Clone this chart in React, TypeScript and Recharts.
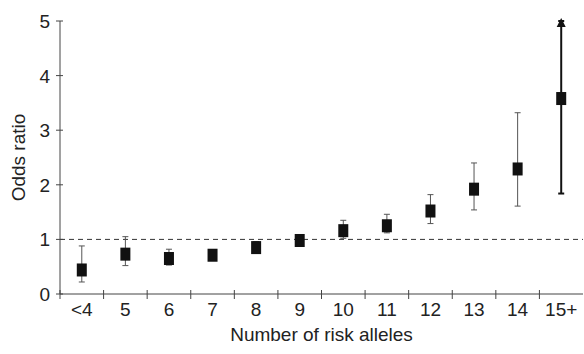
import React from 'react';
import { ComposedChart, Line, XAxis, YAxis, ReferenceLine, ErrorBar } from 'recharts';

const categories = ['<4', '5', '6', '7', '8', '9', '10', '11', '12', '13', '14', '15+'];
const oddsRatios = [0.44, 0.73, 0.65, 0.71, 0.85, 0.98, 1.16, 1.25, 1.52, 1.92, 2.29, 3.58];
const lowerCI = [0.22, 0.52, 0.53, 0.64, 0.77, 0.92, 1.02, 1.12, 1.29, 1.54, 1.61, 1.84];
const upperCI = [0.88, 1.05, 0.82, 0.80, 0.96, 1.05, 1.35, 1.46, 1.82, 2.4, 3.32, 5.0];
const yTicks = [0, 1, 2, 3, 4, 5];
const referenceOR = 1;

const lastIndex = categories.length - 1;
const data = categories.map((c, i) => {
  const err = [oddsRatios[i] - lowerCI[i], upperCI[i] - oddsRatios[i]];
  const isLast = i === lastIndex;
  return {
    cat: c,
    orMain: isLast ? null : oddsRatios[i],
    errMain: isLast ? null : err,
    orLast: isLast ? oddsRatios[i] : null,
    errLast: isLast ? err : null,
    arrowTop: isLast ? upperCI[i] : null,
  };
});

const FONT = '"Liberation Sans", Arial, Helvetica, sans-serif';
const FS = 19;
const AXIS = '#444';
const TEXT = '#222';

const XTick = (props: any) => {
  const { x, y, payload, width } = props;
  let half = payload && typeof payload.offset === 'number' ? payload.offset : NaN;
  if (!Number.isFinite(half)) half = (width || 522) / categories.length / 2;
  return (
    <g>
      <line x1={x - half} x2={x - half} y1={y - 4} y2={y + 5} stroke={AXIS} strokeWidth={1} />
      <text x={x} y={y + 22} textAnchor="middle" fontFamily={FONT} fontSize={FS} fill={TEXT}>
        {payload.value}
      </text>
    </g>
  );
};

const YTick = (props: any) => {
  const { x, y, payload } = props;
  return (
    <g>
      <line x1={x - 4} x2={x + 3} y1={y} y2={y} stroke={AXIS} strokeWidth={1} />
      <text x={x - 10} y={y + 7} textAnchor="end" fontFamily={FONT} fontSize={FS} fill={TEXT}>
        {payload.value}
      </text>
    </g>
  );
};

const XTitle = (props: any) => {
  const vb = props.viewBox || {};
  return (
    <text x={vb.x + vb.width / 2} y={vb.y + 47} textAnchor="middle" fontFamily={FONT} fontSize={FS} fill={TEXT}>
      Number of risk alleles
    </text>
  );
};

const YTitle = (props: any) => {
  const vb = props.viewBox || {};
  const cx = 25;
  const cy = vb.y + vb.height / 2;
  return (
    <text x={cx} y={cy} textAnchor="middle" transform={`rotate(-90, ${cx}, ${cy})`} fontFamily={FONT} fontSize={FS} fill={TEXT}>
      Odds ratio
    </text>
  );
};

const ok = (v: any) => typeof v === 'number' && Number.isFinite(v);

const Square = (props: any) => {
  const { cx, cy, value } = props;
  if (!ok(cx) || !ok(cy) || value == null) return <g key={props.key} />;
  return <rect key={props.key} x={cx - 5} y={cy - 6.5} width={10} height={13} fill="#111" />;
};

const Arrow = (props: any) => {
  const { cx, cy, value } = props;
  if (!ok(cx) || !ok(cy) || value == null) return <g key={props.key} />;
  return <path key={props.key} d={`M${cx},${cy - 3} L${cx + 4.5},${cy + 6} L${cx - 4.5},${cy + 6} Z`} fill="#111" />;
};

export default function App() {
  return (
    <div style={{ position: 'absolute', left: 0, top: 0, width: 584, height: 354, background: '#fff' }}>
      <ComposedChart width={584} height={354} data={data} margin={{ top: 21, right: 1, bottom: 0, left: 0 }}>
        <XAxis
          dataKey="cat"
          type="category"
          scale="band"
          height={60}
          tickLine={false}
          tickSize={0}
          tickMargin={0}
          axisLine={{ stroke: AXIS, strokeWidth: 1 }}
          tick={<XTick />}
          interval={0}
          label={<XTitle />}
        />
        <YAxis
          type="number"
          domain={[0, 5]}
          ticks={yTicks}
          width={60}
          tickLine={false}
          tickSize={0}
          tickMargin={0}
          axisLine={{ stroke: AXIS, strokeWidth: 1 }}
          tick={<YTick />}
          label={<YTitle />}
        />
        <ReferenceLine y={referenceOR} stroke="#333" strokeWidth={1} strokeDasharray="5 4" />
        <Line dataKey="orMain" stroke="none" dot={<Square />} activeDot={false} isAnimationActive={false}>
          <ErrorBar dataKey="errMain" direction="y" width={3} stroke="#555" strokeWidth={1} isAnimationActive={false} />
        </Line>
        <Line dataKey="orLast" stroke="none" dot={<Square />} activeDot={false} isAnimationActive={false}>
          <ErrorBar dataKey="errLast" direction="y" width={3} stroke="#111" strokeWidth={2} isAnimationActive={false} />
        </Line>
        <Line dataKey="arrowTop" stroke="none" dot={<Arrow />} activeDot={false} isAnimationActive={false} />
      </ComposedChart>
    </div>
  );
}
